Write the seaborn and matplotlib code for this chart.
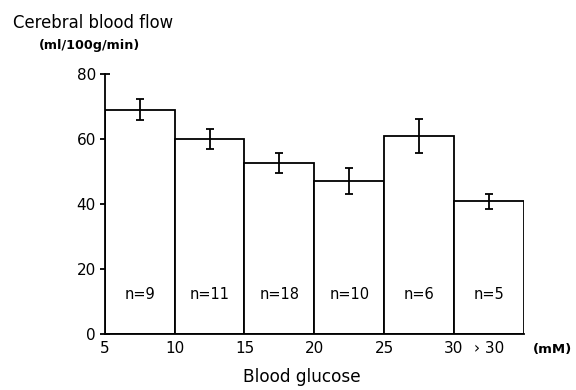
import matplotlib
matplotlib.use("Agg")
import matplotlib.pyplot as plt
import numpy as np
import pandas as pd
import seaborn as sns

# Data
glucose_mid = [7.5, 12.5, 17.5, 22.5, 27.5, 32.5]
cbf_mean = [69.0, 60.0, 52.6, 47.2, 61.0, 40.8]
cbf_err = [3.2, 3.2, 3.1, 4.0, 5.2, 2.2]
n_labels = ["n=9", "n=11", "n=18", "n=10", "n=6", "n=5"]
xtick_pos = [5, 10, 15, 20, 25, 30, 32.5]
xtick_labels = ["5", "10", "15", "20", "25", "30", "› 30"]
ytick_pos = [0, 20, 40, 60, 80]

df = pd.DataFrame({"glucose": glucose_mid, "cbf": cbf_mean})

sns.set_theme(style="ticks", rc={"text.color": "black", "xtick.color": "black",
                                 "ytick.color": "black", "axes.edgecolor": "black",
                                 "axes.labelcolor": "black"})
plt.rcParams["font.family"] = ["DejaVu Sans"]

fig = plt.figure(figsize=(5.76, 3.9), dpi=100)
ax = fig.add_axes([0.182, 0.1436, 0.7274, 0.6667])

sns.barplot(data=df, x="glucose", y="cbf", native_scale=True, width=1,
            color="white", edgecolor="black", linewidth=1.3,
            errorbar=None, ax=ax)
# matplotlib for the SEM bars
ax.errorbar(glucose_mid, cbf_mean, yerr=cbf_err, fmt="none",
            ecolor="black", elinewidth=1.3, capsize=3, capthick=1.3)

for x, lab in zip(glucose_mid, n_labels):
    ax.text(x, 12, lab, ha="center", va="center", fontsize=10.5)

ax.set_xlim(5, 35)
ax.set_ylim(0, 80)
ax.set_xticks(xtick_pos)
ax.set_xticklabels(xtick_labels, fontsize=11)
ax.set_yticks(ytick_pos)
ax.set_yticklabels([str(v) for v in ytick_pos], fontsize=11)
ax.tick_params(axis="x", length=0, pad=5)
ax.tick_params(axis="y", direction="inout", length=7, width=1.3, pad=3)
ax.set_xlabel("")
ax.set_ylabel("")
sns.despine(ax=ax)
for s in ["left", "bottom"]:
    ax.spines[s].set_linewidth(1.3)

fig.text(13 / 576, 1 - 23 / 390, "Cerebral blood flow", fontsize=11.9, va="center")
fig.text(39 / 576, 1 - 45 / 390, "(ml/100g/min)", fontsize=9.2, va="center",
         fontweight="bold")
fig.text(553 / 576, 1 - 349 / 390, "(mM)", fontsize=9.5, va="center",
         ha="center", fontweight="bold")
fig.text(302 / 576, 1 - 377 / 390, "Blood glucose", fontsize=12.2,
         ha="center", va="center")

fig.savefig("out.png", dpi=100)
